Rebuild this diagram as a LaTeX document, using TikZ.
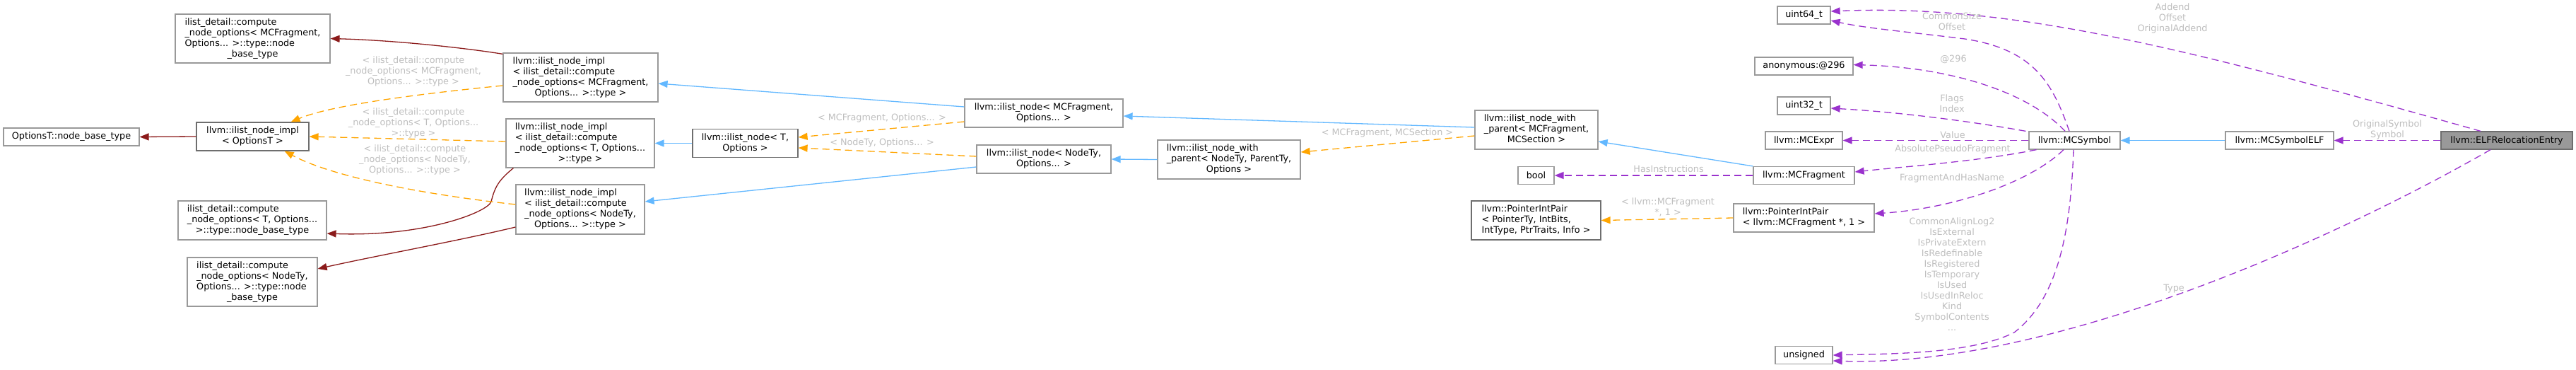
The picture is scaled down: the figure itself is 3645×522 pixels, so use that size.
\documentclass[tikz,border=0pt]{standalone}
\usepackage{fontspec}
\setmainfont{DejaVu Sans}
\usetikzlibrary{arrows.meta}
\definecolor{eblue}{HTML}{63B8FF}
\definecolor{eorange}{HTML}{FFA500}
\definecolor{epurple}{HTML}{9A32CD}
\definecolor{ered}{HTML}{8B1A1A}
\definecolor{lblgray}{HTML}{BEBEBE}
\definecolor{bdgray}{HTML}{999999}
\definecolor{bddark}{HTML}{6E6E6E}
\newcommand{\lc}[1]{\multicolumn{1}{@{}c@{}}{#1}}
\newcommand{\tb}[1]{\begin{tabular}{@{}l@{}}#1\end{tabular}}
\begin{document}
\begin{tikzpicture}[x=1pt,y=-1pt,font=\fontsize{12.8}{15}\selectfont,
  box/.style={draw=bdgray,line width=1.2pt,fill=white,inner sep=0pt,align=center,text=black},
  dbox/.style={box,draw=bddark},
  lbl/.style={text=lblgray,align=center,inner sep=0pt},
  tip/.style={-{Triangle[length=13pt,width=10pt]}},
  redge/.style={draw=ered,line width=1.3pt,tip},
  bedge/.style={draw=eblue,line width=1.3pt,tip},
  oedge/.style={draw=eorange,line width=1.3pt,dash pattern=on 10pt off 6pt,tip},
  pedge/.style={draw=epurple,line width=1.3pt,dash pattern=on 10pt off 6pt,tip}]
\useasboundingbox (0,0) rectangle (3645,522);
% nodes
\node[box,minimum width=192pt,minimum height=25pt] (optT) at (101,193.5) {OptionsT::node\_base\_type};
\node[dbox,minimum width=159pt,minimum height=40pt] (implO) at (357.5,193) {\tb{llvm::ilist\_node\_impl\\\lc{< OptionsT >}}};
\node[box,minimum width=219pt,minimum height=69pt] (cnoM) at (357.5,54.5) {\tb{ilist\_detail::compute\\\_node\_options< MCFragment,\\Options... >::type::node\\\lc{\_base\_type}}};
\node[box,minimum width=210pt,minimum height=55pt] (cnoT) at (357,311.5) {\tb{ilist\_detail::compute\\\_node\_options< T, Options...\\\lc{>::type::node\_base\_type}}};
\node[box,minimum width=184pt,minimum height=69pt] (cnoN) at (357,398.5) {\tb{ilist\_detail::compute\\\_node\_options< NodeTy,\\Options... >::type::node\\\lc{\_base\_type}}};
\node[box,minimum width=219pt,minimum height=69pt] (implM) at (821.5,109.5) {\tb{llvm::ilist\_node\_impl\\< ilist\_detail::compute\\\_node\_options< MCFragment,\\\lc{Options... >::type >}}};
\node[box,minimum width=210pt,minimum height=69pt] (implT) at (821,202.5) {\tb{llvm::ilist\_node\_impl\\< ilist\_detail::compute\\\_node\_options< T, Options...\\\lc{>::type >}}};
\node[box,minimum width=182pt,minimum height=70pt] (implN) at (821,296) {\tb{llvm::ilist\_node\_impl\\< ilist\_detail::compute\\\_node\_options< NodeTy,\\\lc{Options... >::type >}}};
\node[dbox,minimum width=149pt,minimum height=40pt] (nodeT) at (1054.5,202.5) {\tb{llvm::ilist\_node< T,\\\lc{Options >}}};
\node[box,minimum width=224pt,minimum height=40pt] (nodeM) at (1477,160) {\tb{llvm::ilist\_node< MCFragment,\\\lc{Options... >}}};
\node[box,minimum width=190pt,minimum height=40pt] (nodeN) at (1477,225) {\tb{llvm::ilist\_node< NodeTy,\\\lc{Options... >}}};
\node[box,minimum width=202pt,minimum height=55pt] (nwpN) at (1739,225.5) {\tb{llvm::ilist\_node\_with\\\_parent< NodeTy, ParentTy,\\\lc{Options >}}};
\node[box,minimum width=174pt,minimum height=55pt] (nwpM) at (2174,183.5) {\tb{llvm::ilist\_node\_with\\\_parent< MCFragment,\\\lc{MCSection >}}};
\node[box,minimum width=51pt,minimum height=25pt] (bool) at (2173.5,248) {bool};
\node[dbox,minimum width=183pt,minimum height=55pt] (pipG) at (2173.5,311.5) {\tb{llvm::PointerIntPair\\< PointerTy, IntBits,\\\lc{IntType, PtrTraits, Info >}}};
\node[box,minimum width=75pt,minimum height=25pt] (u64) at (2552.5,21.5) {uint64\_t};
\node[box,minimum width=139pt,minimum height=25pt] (anon) at (2552.5,93.5) {anonymous:@296};
\node[box,minimum width=75pt,minimum height=25pt] (u32) at (2552.5,149.5) {uint32\_t};
\node[box,minimum width=109pt,minimum height=25pt] (expr) at (2552.5,198.5) {llvm::MCExpr};
\node[box,minimum width=143pt,minimum height=25pt] (frag) at (2552.5,248) {llvm::MCFragment};
\node[box,minimum width=199pt,minimum height=40pt] (pipM) at (2552.5,308) {\tb{llvm::PointerIntPair\\< llvm::MCFragment *, 1 >}};
\node[box,minimum width=81pt,minimum height=25pt] (uns) at (2552.5,502) {unsigned};
\node[box,minimum width=129pt,minimum height=25pt] (sym) at (2935.5,198.5) {llvm::MCSymbol};
\node[box,minimum width=153pt,minimum height=25pt] (selF) at (3225.5,198.5) {llvm::MCSymbolELF};
\node[box,draw=bddark,fill=bdgray,minimum width=186pt,minimum height=25pt] (elf) at (3547,198.5) {llvm::ELFRelocationEntry};
% red edges
\draw[redge] (implO.west) -- (optT.east);
\draw[redge] ([yshift=-2pt]implM.north west) .. controls (660,68) and (560,57) .. (cnoM.east);
\draw[redge] ([xshift=11pt]implT.south west) .. controls (705,255) and (700,265) .. (695,285) .. controls (690,300) and (600,335) .. ([yshift=-18.5pt]cnoT.east);
\draw[redge] ([yshift=-25pt]implN.west) .. controls (650,340) and (530,362) .. ([yshift=18.5pt]cnoN.east);
% orange edges
\draw[oedge] ([yshift=-11.5pt]implM.west) .. controls (600,132) and (470,148) .. ([xshift=-26pt]implO.north east);
\draw[oedge] ([yshift=2.5pt]implT.west) -- (implO.east);
\draw[oedge] ([yshift=7pt]implN.west) .. controls (600,275) and (470,250) .. ([xshift=-35pt]implO.south east);
\draw[oedge] ([yshift=-12pt]nodeM.west) -- ([yshift=8.5pt]nodeT.east);
\draw[oedge] ([yshift=4pt]nodeN.west) -- ([yshift=-6.5pt]nodeT.east);
\draw[oedge] ([yshift=-8.5pt]nwpM.west) -- ([yshift=10.5pt]nwpN.east);
\draw[oedge] (pipM.west) -- (pipG.east);
% blue edges
\draw[bedge] ([yshift=9pt]nodeM.west) -- ([yshift=-8.5pt]implM.east);
\draw[bedge] (nodeT.west) -- (implT.east);
\draw[bedge] ([yshift=-11pt]nodeN.west) -- ([yshift=11pt]implN.east);
\draw[bedge] (nwpN.west) -- (nodeN.east);
\draw[bedge] ([yshift=3.5pt]nwpM.west) -- ([yshift=-4pt]nodeM.east);
\draw[bedge] (frag.north west) -- ([yshift=-16.5pt]nwpM.east);
\draw[bedge] (selF.west) -- (sym.east);
% purple edges
\draw[pedge] (frag.west) -- (bool.east);
\draw[pedge] ([xshift=-7.5pt]sym.north) .. controls (2905,120) and (2880,70) .. (2780,55) .. controls (2700,45) and (2640,40) .. ([yshift=-7.5pt]u64.east);
\draw[pedge] ([xshift=-13.5pt]sym.north) .. controls (2870,130) and (2760,95) .. ([yshift=2pt]anon.east);
\draw[pedge] ([xshift=-4pt]sym.north west) .. controls (2780,170) and (2680,158) .. ([yshift=-3.5pt]u32.east);
\draw[pedge] (sym.west) -- (expr.east);
\draw[pedge] ([xshift=11pt]sym.south west) .. controls (2800,228) and (2700,235) .. ([yshift=5pt]frag.east);
\draw[pedge] ([xshift=-15.5pt]sym.south) .. controls (2870,260) and (2760,295) .. ([yshift=6pt]pipM.east);
\draw[pedge] ([xshift=-1.5pt]sym.south) .. controls (2930,320) and (2915,420) .. (2850,470) .. controls (2790,500) and (2680,500) .. (uns.east);
\draw[pedge] ([xshift=-37pt]elf.north) .. controls (3100,70) and (2850,5) .. ([yshift=5.5pt]u64.east);
\draw[pedge] (elf.west) -- (selF.east);
\draw[pedge] ([xshift=-23pt]elf.south) .. controls (3300,340) and (2900,520) .. ([yshift=-8pt]uns.east);
% labels
\node[lbl] (l1) at (585,101) {< ilist\_detail::compute\\\_node\_options< MCFragment,\\Options... >::type >};
\node[lbl] (l2) at (585,174) {< ilist\_detail::compute\\\_node\_options< T, Options...\\>::type >};
\node[lbl] (l3) at (587,226) {< ilist\_detail::compute\\\_node\_options< NodeTy,\\Options... >::type >};
\node[lbl] (l4) at (1248,167) {< MCFragment, Options... >};
\node[lbl] (l5) at (1248,202) {< NodeTy, Options... >};
\node[lbl] (l6) at (1963,188) {< MCFragment, MCSection >};
\node[lbl] (l7) at (2361,239) {HasInstructions};
\node[lbl] (l8) at (2360,293) {< llvm::MCFragment\\*, 1 >};
\node[lbl] (l9) at (2762,30) {CommonSize\\Offset};
\node[lbl] (l10) at (2764,84) {@296};
\node[lbl] (l11) at (2762,146) {Flags\\Index};
\node[lbl] (l12) at (2763,191) {Value};
\node[lbl] (l13) at (2763,211) {AbsolutePseudoFragment};
\node[lbl] (l14) at (2762,252) {FragmentAndHasName};
\node[lbl] (l15) at (2762,387.5) {CommonAlignLog2\\IsExternal\\IsPrivateExtern\\IsRedefinable\\IsRegistered\\IsTemporary\\IsUsed\\IsUsedInReloc\\Kind\\SymbolContents\\...};
\node[lbl] (l16) at (3074,26) {Addend\\Offset\\OriginalAddend};
\node[lbl] (l17) at (3378,183) {OriginalSymbol\\Symbol};
\node[lbl] (l18) at (3076,408) {Type};
\end{tikzpicture}
\end{document}
